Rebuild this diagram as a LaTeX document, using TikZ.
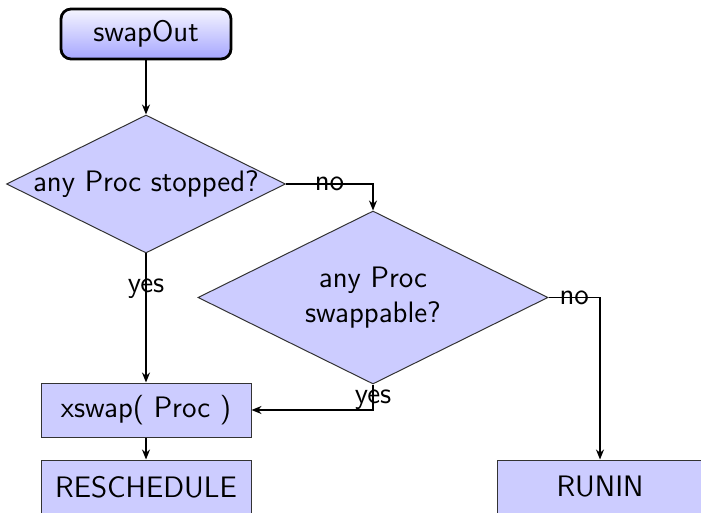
\documentclass[tikz,border=0pt]{standalone}
\usetikzlibrary{shapes.geometric,arrows.meta}
\begin{document}
\begin{tikzpicture}[x=0.5pt,y=-0.5pt,
  font=\sffamily\fontsize{14.8}{17.5}\selectfont,
  box/.style={draw=black!80, fill=blue!20, line width=0.5pt, minimum width=105pt, minimum height=27pt, inner sep=0pt},
  dec/.style={diamond, draw=black!80, fill=blue!20, line width=0.5pt, inner sep=0pt},
  startbox/.style={rounded corners=5pt, draw=black, line width=1.4pt, top color=blue!4, bottom color=blue!35, minimum width=85pt, minimum height=25pt, inner sep=0pt},
  arr/.style={-{Stealth[length=5pt,width=4pt]}, line width=0.8pt},
  lab/.style={inner sep=0pt}]
\useasboundingbox (0,0) rectangle (701,513);
\node[startbox] (s) at (146,34) {swapOut};
\node[dec, minimum width=139.5pt, minimum height=69pt] (d1) at (146,184) {};
\node at (d1.center) {any Proc stopped?};
\node[dec, minimum width=175pt, minimum height=86.5pt] (d2) at (373,297.5) {};
\node[align=center] at (d2.center) {any Proc\\swappable?};
\node[box] (x) at (146,410) {xswap( Proc )};
\node[box] (r) at (146,487) {RESCHEDULE};
\node[box, minimum width=103pt] (ru) at (600,487) {RUNIN};
\draw[arr] (s) -- (d1);
\draw[arr] (d1.east) -| node[pos=0.25,lab]{no} (d2.north);
\draw[arr] (d2.east) -| node[pos=0.25,lab]{no} (ru.north);
\draw[arr] (d1.south) -- node[pos=0.27,lab]{yes} (x.north);
\draw[arr] (d2.south) |- node[pos=0.3,lab]{yes} (x.east);
\draw[arr] (x) -- (r);
\end{tikzpicture}
\end{document}
